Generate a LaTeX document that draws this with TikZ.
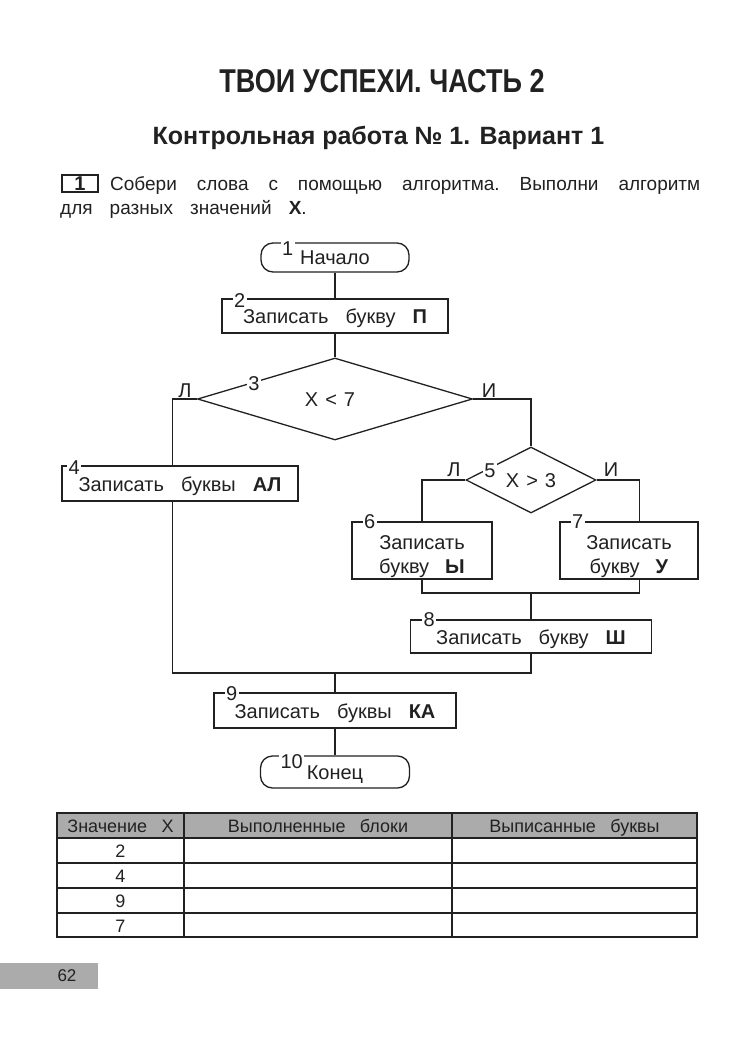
\documentclass[tikz,border=0pt]{standalone}
\usepackage{fontspec}
\setmainfont{Liberation Sans}
\newfontfamily\condfont[FakeStretch=0.82]{Liberation Sans}
\usepackage{tikz}
\usetikzlibrary{shapes.geometric}
\definecolor{ink}{gray}{0.13}
\definecolor{headgray}{gray}{0.67}
\newcommand\flowfont{\fontsize{20}{24}\selectfont\spaceskip=0.85em\relax}
\newcommand\tablefont{\fontsize{18}{22}\selectfont\spaceskip=0.8em\relax}
\newcommand\taskfont{\fontsize{19}{24}\selectfont\frenchspacing\spaceskip=0.9em plus 1em\relax}

\begin{document}
\begin{tikzpicture}[x=1pt,y=-1pt,
    every node/.style={text=ink},
    block/.style={draw=ink, line width=1.3pt, rectangle, inner sep=0pt, font=\flowfont, text height=15pt, text depth=0pt},
    term/.style={block, rounded corners=12pt},
    cond/.style={draw=ink, line width=1.3pt, diamond, inner sep=0pt, font=\flowfont, text height=14pt, text depth=0pt},
    num/.style={fill=white, inner sep=1.5pt, anchor=west, font=\flowfont},
    branch/.style={anchor=south, inner sep=0.5pt, font=\flowfont},
    link/.style={draw=ink, line width=1.3pt},
    cell/.style={font=\tablefont, text height=13pt, text depth=0pt, inner sep=0pt}]
      \fill[white] (0,0) rectangle (731,1040);
      \useasboundingbox (0,0) rectangle (731,1040);
      \node[anchor=base] (title) at (382,93) {\condfont\fontsize{33}{36}\selectfont\bfseries ТВОИ УСПЕХИ. ЧАСТЬ 2};
      \node[anchor=base] (subtitle) at (378.5,145) {\fontsize{25}{28}\selectfont\bfseries Контрольная работа № 1. Вариант 1};
      \node[draw=ink, line width=1.3pt, minimum width=36pt, minimum height=17pt, inner sep=0pt, font=\fontsize{20}{20}\selectfont\bfseries] (task) at (80,183.5) {1};
      \node[anchor=base west, inner sep=0pt, font=\taskfont] (line1) at (110,191) {\makebox[590pt][s]{Собери слова с помощью алгоритма. Выполни алгоритм}};
      \node[anchor=base west, inner sep=0pt, font=\taskfont] (line2) at (60,215) {для разных значений \textbf{X}.};

      \node[term, minimum width=148pt, minimum height=29pt] (b1) at (335,257.5) {Начало};
      \node[block, minimum width=226pt, minimum height=34pt] (b2) at (335,316) {Записать букву \textbf{П}};
      \node[cond, minimum width=275pt, minimum height=82pt] (b3) at (335,399) {\hspace*{-10pt}X\hspace{0.35em}<\hspace{0.35em}7};
      \node[block, minimum width=236pt, minimum height=35pt] (b4) at (180,483.5) {Записать буквы \textbf{АЛ}};
      \node[cond, minimum width=130pt, minimum height=66pt] (b5) at (531,480) {X\hspace{0.35em}>\hspace{0.35em}3};
      \node[block, minimum width=140pt, minimum height=57pt, text width=130pt, align=center, text height=13pt, text depth=16pt] (b6) at (422,550.5) {Записать\\букву\hspace{0.8em}\textbf{Ы}};
      \node[block, minimum width=138pt, minimum height=57pt, text width=130pt, align=center, text height=13pt, text depth=16pt] (b7) at (629,550.5) {Записать\\букву\hspace{0.8em}\textbf{У}};
      \node[block, minimum width=241pt, minimum height=33pt] (b8) at (531,636.5) {Записать букву \textbf{Ш}};
      \node[block, minimum width=242pt, minimum height=35pt] (b9) at (335,710.5) {Записать буквы \textbf{КА}};
      \node[term, minimum width=149pt, minimum height=32pt] (b10) at (335,772) {Конец};

      \draw[link] (b1) -- (b2);
      \draw[link] (b2) -- (b3);
      \draw[link] (b3.west) -| ([xshift=-7.5pt]b4.north);
      \draw[link] (b3.east) -| (b5.north);
      \draw[link] (b5.west) -| (b6.north);
      \draw[link] (b5.east) -| ([xshift=10.5pt]b7.north);
      \coordinate (j1) at (531,593);
      \coordinate (j2) at (335,673);
      \draw[link] (b6.south) |- (j1) -| ([xshift=10.5pt]b7.south);
      \draw[link] (j1) -- (b8.north);
      \draw[link] ([xshift=-7.5pt]b4.south) |- (b8.south |- j2) -- (b8.south);
      \draw[link] (j2) -- (b9.north);
      \draw[link] (b9) -- (b10);

      \node[num] (n1) at ([xshift=20pt,yshift=-6pt]b1.north west) {1};
      \node[num] (n2) at ([xshift=11pt,yshift=-2pt]b2.north west) {2};
      \node[fill=white, inner sep=1pt, font=\flowfont] (n3) at (254,383.5) {3};
      \node[num] (n4) at ([xshift=5.5pt,yshift=-2pt]b4.north west) {4};
      \node[fill=white, inner sep=1pt, font=\flowfont] (n5) at (490,471) {5};
      \node[num] (n6) at ([xshift=11pt]b6.north west) {6};
      \node[num] (n7) at ([xshift=11pt]b7.north west) {7};
      \node[num] (n8) at ([xshift=12pt]b8.north west) {8};
      \node[num] (n9) at ([xshift=11pt,yshift=-1pt]b9.north west) {9};
      \node[num] (n10) at ([xshift=19pt,yshift=-6pt]b10.north west) {10};

      \node[branch] (l3) at (185,398) {Л};
      \node[branch] (i3) at (489,398) {И};
      \node[branch] (l5) at (454,477) {Л};
      \node[branch] (i5) at (611,477) {И};

      \fill[headgray] (57,813) rectangle (697,838);
      \draw[ink, line width=1.4pt] (57,813) rectangle (697,937);
      \foreach \y in {838,863,888,913}
        \draw[ink, line width=1.2pt] (57,\y) -- (697,\y);
      \foreach \x in {184,452}
        \draw[ink, line width=1.2pt] (\x,813) -- (\x,937);
      \node[cell] (h1) at (120.5,826) {Значение X};
      \node[cell] (h2) at (318,826) {Выполненные блоки};
      \node[cell] (h3) at (574.5,826) {Выписанные буквы};
      \foreach \v [count=\i] in {2,4,9,7}
        \node[cell] (x\i) at (120.5,825.5+25*\i) {\v};

      \fill[headgray] (0,963) rectangle (98,989);
      \node[font=\fontsize{17}{20}\selectfont] (page) at (67,976) {62};
\end{tikzpicture}
\end{document}
